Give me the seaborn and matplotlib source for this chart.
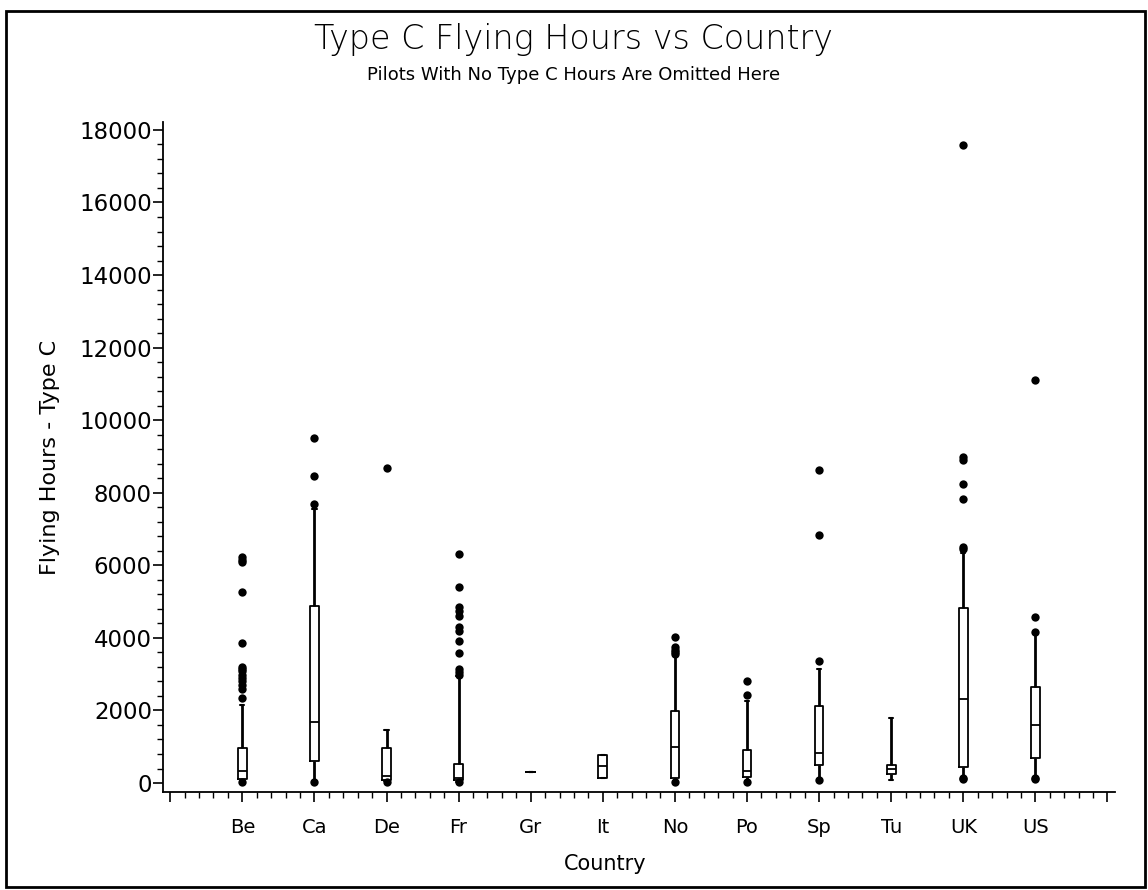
import pandas as pd
import matplotlib.pyplot as plt
import seaborn as sns
from matplotlib.patches import Rectangle
from matplotlib.ticker import MultipleLocator, FixedLocator

countries = ['Be', 'Ca', 'De', 'Fr', 'Gr', 'It', 'No', 'Po', 'Sp', 'Tu', 'UK', 'US']

# box summary (whisker low, Q1, median, Q3, whisker high)
whisker_lo = [60, 60, 60, 40, 300, 140, 60, 60, 90, 75, 120, 120]
q1 = [110, 610, 75, 70, 300, 140, 140, 165, 490, 240, 450, 700]
median = [330, 1675, 185, 140, 300, 460, 1000, 325, 840, 390, 2320, 1610]
q3 = [955, 4870, 955, 520, 300, 770, 1990, 907, 2130, 510, 4820, 2650]
whisker_hi = [2160, 7550, 1460, 2945, 300, 770, 3500, 2250, 3130, 1800, 6350, 4100]

outliers = [
    [6220, 6150, 6100, 5260, 3850, 3200, 3150, 3080, 2990, 2900, 2800, 2700, 2600, 2330, 40],
    [9500, 8450, 7700, 40],
    [8685, 40],
    [6300, 5400, 4840, 4750, 4610, 4290, 4190, 3920, 3575, 3130, 3060, 2990, 30],
    [],
    [],
    [4030, 3750, 3680, 3600, 3550, 40],
    [2820, 2430, 40],
    [8620, 6840, 3360, 90],
    [],
    [17590, 8980, 8900, 8230, 7815, 6500, 6440, 150, 100],
    [11120, 4570, 4170, 140, 100],
]


def build_frames():
    rows = []
    for i, c in enumerate(countries):
        for v in (whisker_lo[i], q1[i], median[i], q3[i], whisker_hi[i]):
            rows.append({'Country': c, 'Hours': v})
    box_df = pd.DataFrame(rows)
    out_rows = [{'Country': c, 'Hours': v} for c, vals in zip(countries, outliers) for v in vals]
    out_df = pd.DataFrame(out_rows)
    return box_df, out_df


def plot_chart(box_df, out_df):
    sns.set_style('ticks')
    plt.rcParams['font.family'] = ['DejaVu Sans']
    plt.rcParams['text.color'] = 'black'
    plt.rcParams['axes.labelcolor'] = 'black'
    plt.rcParams['xtick.color'] = 'black'
    plt.rcParams['ytick.color'] = 'black'

    fig = plt.figure(figsize=(11.48, 8.90), dpi=100)
    ax = fig.add_axes([0.142, 0.110, 0.829, 0.753])

    sns.boxplot(data=box_df, x='Country', y='Hours', order=countries,
                whis=(0, 100), fill=False, color='black', width=0.12,
                linewidth=1.3, showfliers=False,
                whiskerprops={'linewidth': 2.0}, capprops={'linewidth': 1.5},
                ax=ax)
    sns.stripplot(data=out_df, x='Country', y='Hours', order=countries,
                  jitter=False, color='black', size=6, linewidth=0,
                  zorder=5, ax=ax)

    ax.set_xlim(-1.1, 12.1)
    ax.set_ylim(-250, 18220)
    ax.xaxis.set_major_locator(FixedLocator(range(-1, 13)))
    ax.set_xticklabels([''] + countries + [''])
    ax.xaxis.set_minor_locator(MultipleLocator(0.2))
    ax.yaxis.set_major_locator(MultipleLocator(2000))
    ax.yaxis.set_minor_locator(MultipleLocator(400))
    ax.tick_params(axis='both', which='major', length=7, width=1.2, color='black')
    ax.tick_params(axis='both', which='minor', length=4, width=1.0, color='black')
    ax.tick_params(axis='y', labelsize=16.5, pad=1)
    ax.tick_params(axis='x', labelsize=14, pad=12)
    sns.despine(ax=ax)
    for s in ('left', 'bottom'):
        ax.spines[s].set_linewidth(1.3)
        ax.spines[s].set_color('black')

    ax.set_xlabel('Country', fontsize=15, labelpad=10)
    ax.xaxis.set_label_coords(0.465, -0.092)
    ax.set_ylabel('Flying Hours - Type C', fontsize=16, labelpad=14)

    fig.text(0.5, 0.956, 'Type C Flying Hours vs Country', ha='center', va='center',
             fontsize=24, fontweight='light')
    fig.text(0.5, 0.916, 'Pilots With No Type C Hours Are Omitted Here', ha='center', va='center',
             fontsize=13)

    fig.patches.append(Rectangle((0.005, 0.003), 0.992, 0.985, transform=fig.transFigure,
                                 fill=False, edgecolor='black', linewidth=2))

    fig.savefig('out.png', dpi=100)


if __name__ == '__main__':
    box_df, out_df = build_frames()
    plot_chart(box_df, out_df)
